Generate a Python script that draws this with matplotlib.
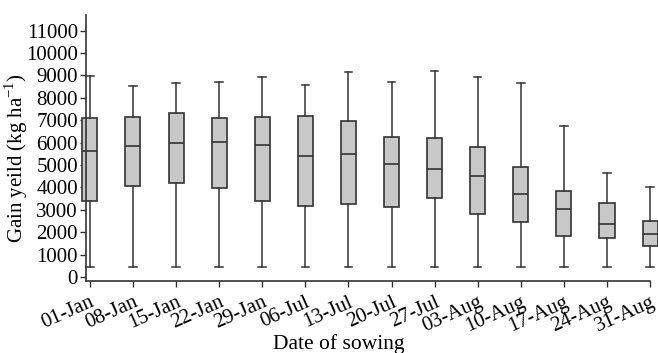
import matplotlib
matplotlib.use("Agg")
import matplotlib.pyplot as plt

plt.rcParams["font.family"] = ["Liberation Serif", "DejaVu Serif"]
plt.rcParams["mathtext.fontset"] = "custom"
plt.rcParams["mathtext.rm"] = "Liberation Serif"

dates = ["01-Jan", "08-Jan", "15-Jan", "22-Jan", "29-Jan", "06-Jul", "13-Jul",
         "20-Jul", "27-Jul", "03-Aug", "10-Aug", "17-Aug", "24-Aug", "31-Aug"]
whis_low = [450, 450, 450, 450, 450, 450, 450, 450, 450, 450, 450, 450, 450, 450]
q1 = [3400, 4060, 4180, 3960, 3370, 3150, 3250, 3130, 3510, 2790, 2460, 1840, 1750, 1370]
med = [5640, 5840, 5960, 6030, 5870, 5390, 5490, 5030, 4840, 4510, 3720, 3050, 2370, 1930]
q3 = [7100, 7120, 7340, 7100, 7160, 7190, 6940, 6250, 6220, 5810, 4930, 3840, 3280, 2510]
whis_high = [8950, 8540, 8640, 8720, 8910, 8550, 9130, 8690, 9180, 8910, 8640, 6750, 4660, 4030]

stats = []
for i in range(len(dates)):
    stats.append({"whislo": whis_low[i], "q1": q1[i], "med": med[i],
                  "q3": q3[i], "whishi": whis_high[i], "fliers": []})

fig, ax = plt.subplots(figsize=(6.58, 3.53), dpi=100)
fig.subplots_adjust(left=0.13, right=0.988, top=0.958, bottom=0.204)

edge = "#333333"
bp = ax.bxp(stats, positions=range(1, len(dates) + 1), widths=0.35,
            patch_artist=True, showfliers=False,
            boxprops=dict(facecolor="#c8c8c8", edgecolor=edge, linewidth=1.2),
            medianprops=dict(color=edge, linewidth=1.2),
            whiskerprops=dict(color=edge, linewidth=1.1),
            capprops=dict(color=edge, linewidth=1.1))
for art in bp["boxes"] + bp["medians"] + bp["whiskers"] + bp["caps"]:
    art.set_clip_on(False)

ax.set_xlim(0.9, 14.0)
ax.set_ylim(-180, 11700)
ax.set_yticks(range(0, 11001, 1000))
ax.set_xticks(range(1, len(dates) + 1))
ax.set_xticklabels(dates, rotation=24, ha="right", rotation_mode="anchor", fontsize=15)
ax.tick_params(axis="y", labelsize=15, length=4.5, width=1, pad=1, color=edge)
ax.tick_params(axis="x", length=4.5, width=1, pad=4, color=edge)

for s in ["top", "right"]:
    ax.spines[s].set_visible(False)
for s in ["left", "bottom"]:
    ax.spines[s].set_color(edge)
    ax.spines[s].set_linewidth(1.2)

ax.set_ylabel("Gain yeild (kg ha$^{\\mathregular{-1}}$)", fontsize=15)
ax.yaxis.set_label_coords(-0.099, 0.462)
ax.set_xlabel("Date of sowing", fontsize=15.5)
ax.xaxis.set_label_coords(0.448, -0.20)

fig.savefig("out.png", dpi=100)
